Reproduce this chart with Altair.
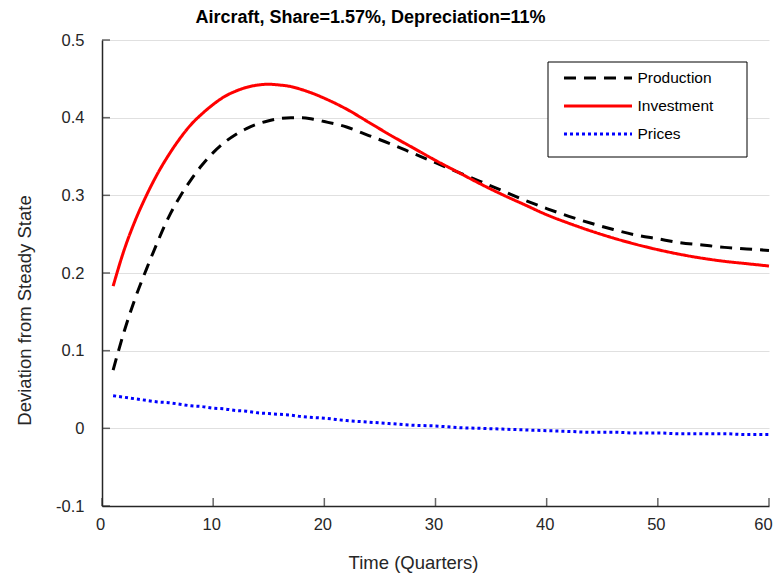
import altair as alt
import pandas as pd

quarters = [1, 2, 3, 4, 5, 6, 7, 8, 9, 10, 11, 12, 13, 14, 15, 16, 17, 18, 19, 20,
            22, 24, 26, 28, 30, 32, 34, 36, 38, 40, 42, 44, 46, 48, 50, 52, 54, 56, 58, 60]

production = [0.075, 0.125, 0.168, 0.205, 0.240, 0.272, 0.298, 0.320, 0.339, 0.355,
              0.368, 0.378, 0.386, 0.392, 0.396, 0.399, 0.400, 0.400, 0.398, 0.395,
              0.388, 0.377, 0.366, 0.354, 0.342, 0.330, 0.318, 0.306, 0.294, 0.283,
              0.273, 0.264, 0.256, 0.249, 0.244, 0.239, 0.236, 0.233, 0.231, 0.229]

investment = [0.183, 0.230, 0.268, 0.300, 0.328, 0.352, 0.373, 0.391, 0.405, 0.417,
              0.427, 0.434, 0.439, 0.442, 0.443, 0.442, 0.440, 0.436, 0.431, 0.425,
              0.411, 0.394, 0.377, 0.361, 0.345, 0.330, 0.315, 0.301, 0.288, 0.275,
              0.264, 0.254, 0.245, 0.237, 0.230, 0.224, 0.219, 0.215, 0.212, 0.209]

prices = [0.042, 0.040, 0.038, 0.036, 0.034, 0.033, 0.031, 0.029, 0.028, 0.026,
          0.025, 0.023, 0.022, 0.020, 0.019, 0.018, 0.017, 0.015, 0.014, 0.013,
          0.010, 0.008, 0.006, 0.004, 0.003, 0.001, 0.000, -0.001, -0.002, -0.003,
          -0.004, -0.005, -0.005, -0.006, -0.006, -0.007, -0.007, -0.007, -0.008, -0.008]

series_names = ["Production", "Investment", "Prices"]
series_colors = ["#000000", "#ff0000", "#0000ff"]
series_dashes = [[12, 8], [1, 0], [3, 3]]

x_ticks = [0, 10, 20, 30, 40, 50, 60]
y_ticks = [-0.1, 0, 0.1, 0.2, 0.3, 0.4, 0.5]

rows = []
for name, vals in zip(series_names, [production, investment, prices]):
    for q, v in zip(quarters, vals):
        rows.append({"quarter": q, "value": v, "series": name})
df = pd.DataFrame(rows)

FONT = "Liberation Sans"
W, H = 667, 466

x_scale = alt.Scale(domain=[0, 60], nice=False)
y_scale = alt.Scale(domain=[-0.1, 0.5], nice=False)

legend = alt.Legend(orient="none", legendX=483, legendY=25, title=None,
                    padding=0, symbolType="M-3,0H3", symbolSize=514,
                    symbolStrokeWidth=3, labelFontSize=15.5, labelFont=FONT,
                    labelColor="#000000", labelOffset=26.5, rowPadding=6)

lines = alt.Chart(df).mark_line(strokeWidth=3, interpolate="monotone").encode(
    x=alt.X("quarter:Q", scale=x_scale,
            axis=alt.Axis(values=x_ticks, title="Time (Quarters)", grid=False, ticks=False,
                          labelPadding=10, labelFlush=False,
                          labelOffset={"condition": {"test": "datum.value == 60", "value": -6},
                                       "value": -2},
                          titleX=311, titleY=62, titleBaseline="alphabetic",
                          titleAnchor="start", titleAlign="center")),
    y=alt.Y("value:Q", scale=y_scale,
            axis=alt.Axis(values=y_ticks, title="Deviation from Steady State", grid=True,
                          ticks=False, labelPadding=18,
                          labelExpr="toString(round(datum.value*10)/10)",
                          titleX=-72, titleY=270, titleBaseline="alphabetic",
                          titleAlign="center")),
    color=alt.Color("series:N", scale=alt.Scale(domain=series_names, range=series_colors),
                    legend=legend),
    strokeDash=alt.StrokeDash("series:N", scale=alt.Scale(domain=series_names, range=series_dashes),
                              legend=legend),
)

ytick_df = pd.DataFrame({"value": y_ticks})
xtick_df = pd.DataFrame({"quarter": x_ticks})

yt = alt.Chart(ytick_df).mark_tick(color="#262626", thickness=1.5, size=8).encode(
    y=alt.Y("value:Q", scale=y_scale), x=alt.value(4))
xt = alt.Chart(xtick_df).mark_tick(color="#262626", thickness=1.5, size=8).encode(
    x=alt.X("quarter:Q", scale=x_scale), y=alt.value(H - 4))

box = alt.Chart(pd.DataFrame({"k": [0]})).mark_rect(fill="white", stroke="black", strokeWidth=1).encode(
    x=alt.value(446), x2=alt.value(645), y=alt.value(22), y2=alt.value(117))

chart = alt.layer(lines, yt, xt, box).properties(
    width=W, height=H,
    title=alt.TitleParams("Aircraft, Share=1.57%, Depreciation=11%", font=FONT, fontSize=18,
                          fontWeight="bold", color="#000000", anchor="middle", frame="group",
                          dx=-65, offset=5),
    autosize=alt.AutoSizeParams(type="none"),
    padding={"left": 94, "top": 32, "right": 4, "bottom": 70},
).configure_view(stroke=None).configure_axis(
    labelFont=FONT, titleFont=FONT, labelFontSize=16.5, titleFontSize=18.5,
    labelColor="#262626", titleColor="#262626", titleFontWeight="normal",
    domainColor="#262626", domainWidth=1.5, gridColor="#e0e0e0", gridWidth=1,
)

chart.save("out.html", embed_options={"renderer": "svg", "actions": False})
